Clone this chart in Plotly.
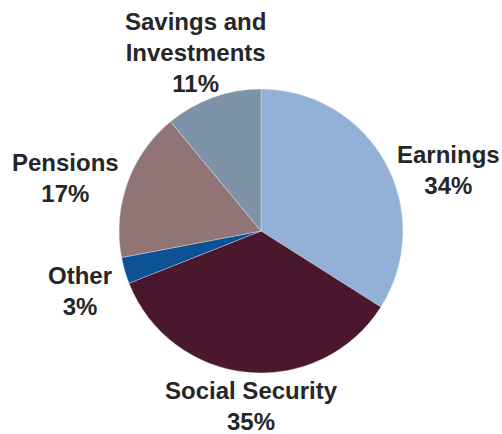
import plotly.graph_objects as go

labels = ["Earnings", "Social Security", "Other", "Pensions", "Savings and<br>Investments"]
values = [34, 35, 3, 17, 11]
colors = ["#93B0D6", "#4A182D", "#0B5294", "#917576", "#7E93A8"]

W, H = 502, 434
cx, cy, r = 261, 231, 142

fig = go.Figure(go.Pie(
    labels=labels,
    values=values,
    sort=False,
    direction="clockwise",
    rotation=0,
    marker=dict(colors=colors, line=dict(color="rgba(255,255,255,0.6)", width=0.5)),
    textinfo="none",
    hoverinfo="label+percent",
    domain=dict(x=[(cx - r) / W, (cx + r) / W], y=[1 - (cy + r) / H, 1 - (cy - r) / H]),
    showlegend=False,
))

# label block centres (pixels)
label_pos = [(448, 170), (251, 406), (80, 291), (65, 178), (195, 52)]
font = dict(family="Liberation Sans, Arial, sans-serif", size=24, color="#262626")
for lab, v, (px, py) in zip(labels, values, label_pos):
    fig.add_annotation(
        x=px / W, y=1 - py / H, xref="paper", yref="paper",
        text=f"<b>{lab}<br>{v}%</b>", showarrow=False,
        xanchor="center", yanchor="middle", align="center", font=font,
    )

fig.update_layout(
    width=W, height=H,
    margin=dict(l=0, r=0, t=0, b=0),
    paper_bgcolor="white", plot_bgcolor="white",
)
fig.write_html("out.html")
